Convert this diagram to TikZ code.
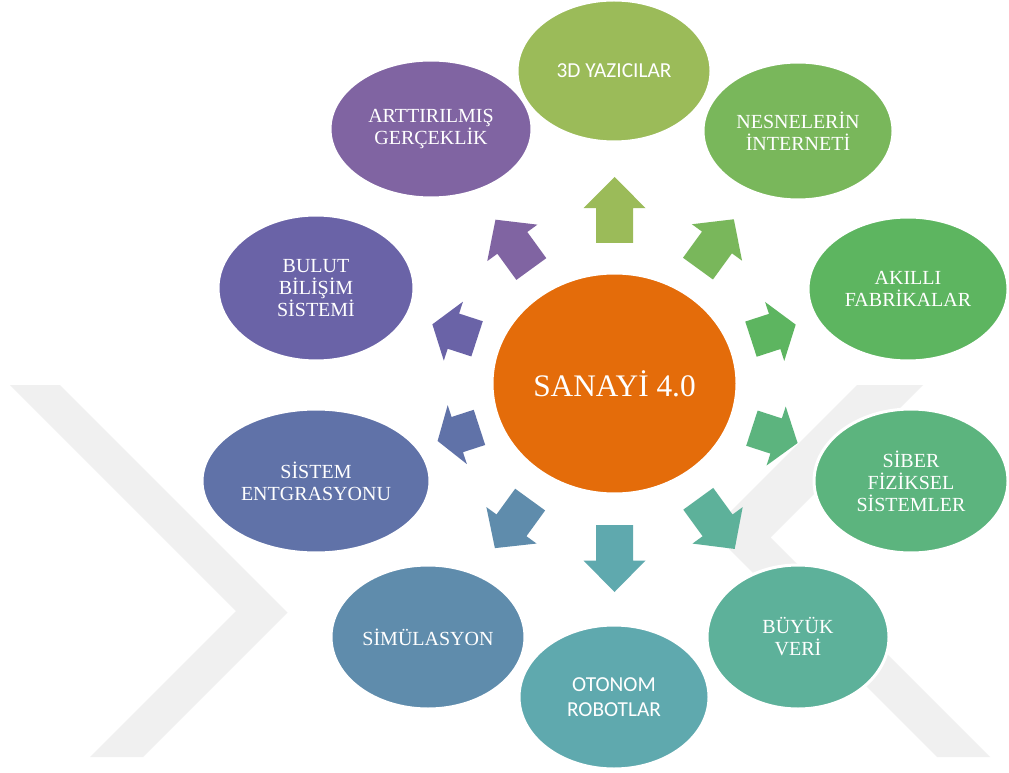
\documentclass[tikz,border=0pt]{standalone}
\usepackage{fontspec}
\setmainfont{Liberation Serif}
\newfontfamily\calib{Carlito}
\usetikzlibrary{calc,shapes.geometric}
\definecolor{cOrange}{HTML}{E46C0A}
\definecolor{cThree}{HTML}{9BBB59}
\definecolor{cNes}{HTML}{79B75B}
\definecolor{cAk}{HTML}{5DB560}
\definecolor{cSib}{HTML}{5CB47E}
\definecolor{cBuy}{HTML}{5DB19A}
\definecolor{cOto}{HTML}{5FA9AE}
\definecolor{cSim}{HTML}{5F8CAC}
\definecolor{cSis}{HTML}{6072A8}
\definecolor{cBul}{HTML}{6A63A7}
\definecolor{cArt}{HTML}{8064A2}
\definecolor{wmark}{HTML}{F0F0F0}
\tikzset{
  bub/.style={ellipse, draw=white, line width=2.25pt, inner sep=0pt, outer sep=0pt,
    text=white, align=center, font=\fontsize{15}{16.5}\selectfont},
  cbub/.style={bub, font=\calib\fontsize{16}{18.75}\selectfont},
}
% angle, colour, distance, length (pixels)
\newcommand\blkarrow[4]{%
  \begin{scope}[shift={($(C.center)+(-#1:#3)$)},rotate=#1]
    \fill[#2] ({-#4/2},-18.5) -- ({0.03*#4},-18.5) -- ({0.03*#4},-31) -- ({#4/2},0)
      -- ({0.03*#4},31) -- ({0.03*#4},18.5) -- ({-#4/2},18.5) -- cycle;
  \end{scope}}
\begin{document}
\begin{tikzpicture}[x=0.75pt,y=-0.75pt]
\useasboundingbox (0,0) rectangle (1009,773);
\fill[white] (0,0) rectangle (1009,773);
% watermark
\fill[wmark] (10,385) -- (60,385) -- (287.5,612.5) -- (143,757) -- (90,757) -- (236,611) -- cycle;
\fill[wmark] (923,385) -- (857,385) -- (711,531) -- (937,757) -- (990,757) -- (770.5,537.5) -- cycle;

% centre
\node[bub, fill=cOrange, minimum width=183.75pt, minimum height=165.75pt,
      font=\fontsize{23.5}{28}\selectfont] (C) at (614.5,383.5) {SANAYİ 4.0};

% arrows
\blkarrow{90}{cThree}{173.5}{66}
\blkarrow{54}{cNes}{172.5}{61}
\blkarrow{18}{cAk}{167}{47}
\blkarrow{342}{cSib}{168.5}{48}
\blkarrow{306}{cBuy}{173.5}{62}
\blkarrow{270}{cOto}{175}{67}
\blkarrow{234}{cSim}{173.5}{60}
\blkarrow{198}{cSis}{164}{44}
\blkarrow{162}{cBul}{168}{47}
\blkarrow{126}{cArt}{172}{61}

% satellites
\node[cbub, fill=cThree, minimum width=145.5pt, minimum height=106.5pt] (d3) at (614,71) {3D YAZICILAR};
\node[bub, fill=cNes, minimum width=142.5pt, minimum height=103.5pt] (nes) at (798,131) {NESNELERİN\\İNTERNETİ};
\node[bub, fill=cArt, minimum width=151.5pt, minimum height=103.5pt] (art) at (431,129) {ARTTIRILMIŞ\\GERÇEKLİK};
\node[bub, fill=cAk, minimum width=150pt, minimum height=108pt] (ak) at (908,289) {AKILLI\\FABRİKALAR};
\node[bub, fill=cBul, minimum width=147pt, minimum height=109.5pt] (bul) at (316,288) {BULUT\\BİLİŞİM\\SİSTEMİ};
\node[bub, fill=cSib, minimum width=145.5pt, minimum height=108pt] (sib) at (911,481) {SİBER\\FİZİKSEL\\SİSTEMLER};
\node[bub, fill=cSis, minimum width=171pt, minimum height=108pt] (sis) at (316,481) {SİSTEM\\ENTGRASYONU};
\node[bub, fill=cBuy, minimum width=136.5pt, minimum height=108pt] (buy) at (798,637) {BÜYÜK\\VERİ};
\node[bub, fill=cSim, minimum width=145.5pt, minimum height=108pt] (sim) at (428,637) {SİMÜLASYON};
\node[cbub, fill=cOto, minimum width=142.5pt, minimum height=108pt] (oto) at (614,697) {OTONOM\\ROBOTLAR};
\end{tikzpicture}
\end{document}
